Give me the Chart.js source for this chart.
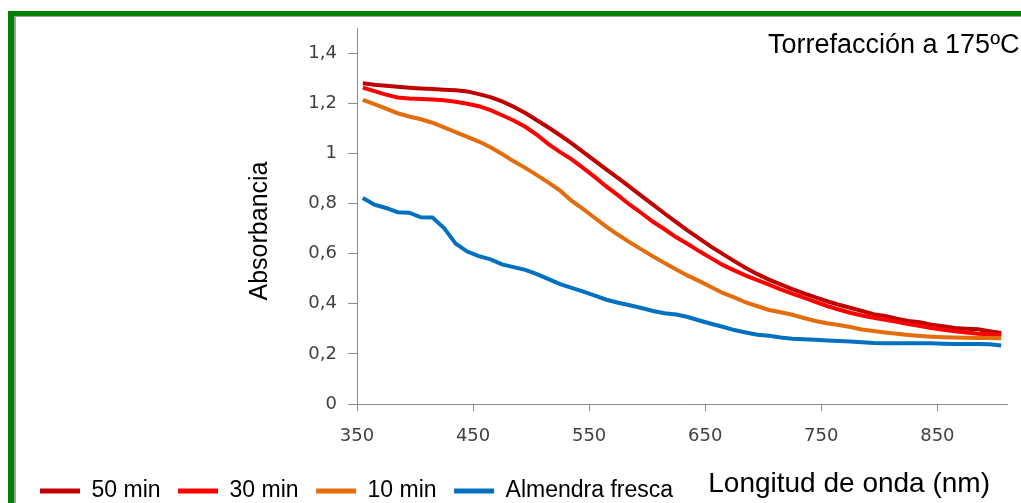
<!DOCTYPE html>
<html lang="es">
<head>
<meta charset="utf-8">
<title>Absorbancia - Torrefacción a 175ºC</title>
<script src="https://cdn.jsdelivr.net/npm/chart.js@4.4.1/dist/chart.umd.min.js"></script>
<style>
  html, body { margin: 0; padding: 0; background: #fff; overflow: hidden; }
  .marco { position: absolute; left: 8px; top: 11px; width: 1100px; height: 600px;
           border-left: 6px solid #008000; border-top: 5px solid #008000; }
  .marco div { width: 100%; height: 100%; border-left: 2px solid #a0a0a0; border-top: 1px solid #a0a0a0; }
  #wrap { position: absolute; left: 0; top: 0; width: 1021px; height: 503px; }
</style>
</head>
<body>
<div class="marco"><div></div></div>
<div id="wrap"><canvas id="grafico"></canvas></div>
<script>
// Wavelength grid (nm) shared by every spectrum
const longitudOnda = [
    355, 365, 375, 385, 395, 405, 415, 425, 435, 445,
    455, 465, 475, 485, 495, 505, 515, 525, 535, 545,
    555, 565, 575, 585, 595, 605, 615, 625, 635, 645,
    655, 665, 675, 685, 695, 705, 715, 725, 735, 745,
    755, 765, 775, 785, 795, 805, 815, 825, 835, 845,
    855, 865, 875, 885, 895, 905
];

const min50 = [
    1.280, 1.274, 1.270, 1.266, 1.262, 1.259, 1.257, 1.254, 1.252, 1.247,
    1.236, 1.224, 1.207, 1.186, 1.161, 1.132, 1.103, 1.072, 1.040, 1.005,
    0.970, 0.935, 0.901, 0.866, 0.830, 0.795, 0.760, 0.726, 0.692, 0.660,
    0.628, 0.599, 0.570, 0.543, 0.518, 0.496, 0.477, 0.458, 0.441, 0.425,
    0.410, 0.396, 0.384, 0.371, 0.358, 0.351, 0.340, 0.331, 0.326, 0.316,
    0.310, 0.303, 0.300, 0.298, 0.290, 0.283
];

const min30 = [
    1.262, 1.248, 1.234, 1.223, 1.219, 1.217, 1.215, 1.212, 1.206, 1.198,
    1.188, 1.172, 1.152, 1.131, 1.106, 1.074, 1.037, 1.005, 0.976, 0.941,
    0.905, 0.867, 0.832, 0.795, 0.762, 0.727, 0.697, 0.665, 0.638, 0.609,
    0.582, 0.555, 0.533, 0.512, 0.494, 0.476, 0.457, 0.440, 0.424, 0.407,
    0.391, 0.377, 0.364, 0.353, 0.344, 0.336, 0.328, 0.319, 0.311, 0.303,
    0.296, 0.290, 0.285, 0.280, 0.278, 0.275
];

const min10 = [
    1.213, 1.196, 1.178, 1.160, 1.147, 1.136, 1.122, 1.104, 1.085, 1.066,
    1.047, 1.024, 0.997, 0.968, 0.942, 0.913, 0.883, 0.851, 0.810, 0.777,
    0.742, 0.707, 0.675, 0.645, 0.617, 0.589, 0.562, 0.537, 0.512, 0.490,
    0.467, 0.443, 0.425, 0.405, 0.390, 0.375, 0.366, 0.356, 0.343, 0.331,
    0.322, 0.315, 0.307, 0.297, 0.291, 0.285, 0.280, 0.275, 0.271, 0.268,
    0.266, 0.265, 0.264, 0.263, 0.263, 0.262
];

const fresca = [
    0.822, 0.795, 0.782, 0.765, 0.763, 0.745, 0.744, 0.702, 0.640, 0.608,
    0.590, 0.577, 0.557, 0.546, 0.535, 0.518, 0.498, 0.478, 0.463, 0.448,
    0.432, 0.416, 0.404, 0.394, 0.383, 0.371, 0.362, 0.357, 0.347, 0.333,
    0.320, 0.308, 0.295, 0.285, 0.276, 0.272, 0.265, 0.260, 0.258, 0.256,
    0.253, 0.251, 0.249, 0.246, 0.243, 0.242, 0.242, 0.242, 0.242, 0.242,
    0.240, 0.239, 0.239, 0.239, 0.238, 0.233
];

const ticksX = [350, 450, 550, 650, 750, 850];
const ticksY = [0, 0.2, 0.4, 0.6, 0.8, 1, 1.2, 1.4];

const fuenteTitulos = '"Liberation Sans", Arial, sans-serif';
const gris = '#8c8c8c';

function serie(label, valores, color, orden) {
    return {
        label: label,
        data: valores.map((v, i) => ({ x: longitudOnda[i], y: v })),
        borderColor: color,
        backgroundColor: color,
        borderWidth: 4,
        pointRadius: 0,
        tension: 0,
        order: orden
    };
}

// Free-standing texts: chart title and axis titles
const textos = {
    id: 'textos',
    afterDraw(chart) {
        const { ctx, chartArea } = chart;
        ctx.save();
        ctx.fillStyle = '#000';
        ctx.textBaseline = 'alphabetic';

        ctx.font = '27px ' + fuenteTitulos;
        ctx.textAlign = 'left';
        ctx.fillText('Torrefacción a 175ºC', chart.width - 253, chartArea.top + 25);

        ctx.font = '28px ' + fuenteTitulos;
        ctx.textAlign = 'right';
        ctx.fillText('Longitud de onda (nm)', chart.width - 31, chart.height - 11);

        ctx.translate(chartArea.left - 97, (chartArea.top + chartArea.bottom) / 2 + 15);
        ctx.rotate(-Math.PI / 2);
        ctx.font = '25px ' + fuenteTitulos;
        ctx.textAlign = 'center';
        ctx.textBaseline = 'middle';
        ctx.fillText('Absorbancia', 0, 0);
        ctx.restore();
    }
};

const ctx = document.getElementById('grafico').getContext('2d');

new Chart(ctx, {
    type: 'line',
    data: {
        datasets: [
            serie('50 min', min50, '#c00000', 4),
            serie('30 min', min30, '#ff0000', 3),
            serie('10 min', min10, '#e46c0a', 2),
            serie('Almendra fresca', fresca, '#0070c0', 1)
        ]
    },
    plugins: [textos],
    options: {
        responsive: true,
        maintainAspectRatio: false,
        animation: false,
        layout: { padding: { top: 28, right: 14, bottom: -9.5, left: 22.5 } },
        plugins: {
            tooltip: { enabled: false },
            legend: {
                position: 'bottom',
                align: 'start',
                labels: {
                    boxWidth: 40,
                    boxHeight: 5,
                    padding: 17.5,
                    color: '#000',
                    font: { family: fuenteTitulos, size: 23 },
                    sort: (a, b) => a.datasetIndex - b.datasetIndex,
                    generateLabels: chart => Chart.defaults.plugins.legend.labels
                        .generateLabels(chart).map(l => ({ ...l, lineWidth: 0 }))
                }
            }
        },
        scales: {
            x: {
                type: 'linear',
                min: 350,
                max: 910,
                afterBuildTicks: scale => { scale.ticks = ticksX.map(v => ({ value: v })); },
                afterFit: scale => { scale.height = 58; },
                grid: { drawOnChartArea: false, tickLength: 7, color: gris },
                border: { color: gris, width: 1 },
                ticks: {
                    padding: 15,
                    color: '#404040',
                    font: { family: '"DejaVu Sans", Verdana, sans-serif', size: 18 },
                    maxRotation: 0
                }
            },
            y: {
                min: 0,
                max: 1.5,
                afterBuildTicks: scale => { scale.ticks = ticksY.map(v => ({ value: v })); },
                afterFit: scale => { scale.width = 334.5; },
                grid: { drawOnChartArea: false, tickLength: 9, color: gris },
                border: { color: gris, width: 1 },
                ticks: {
                    padding: 11,
                    color: '#404040',
                    font: { family: '"DejaVu Sans", Verdana, sans-serif', size: 18 },
                    callback: value => String(value).replace('.', ',')
                }
            }
        }
    }
});
</script>
</body>
</html>
